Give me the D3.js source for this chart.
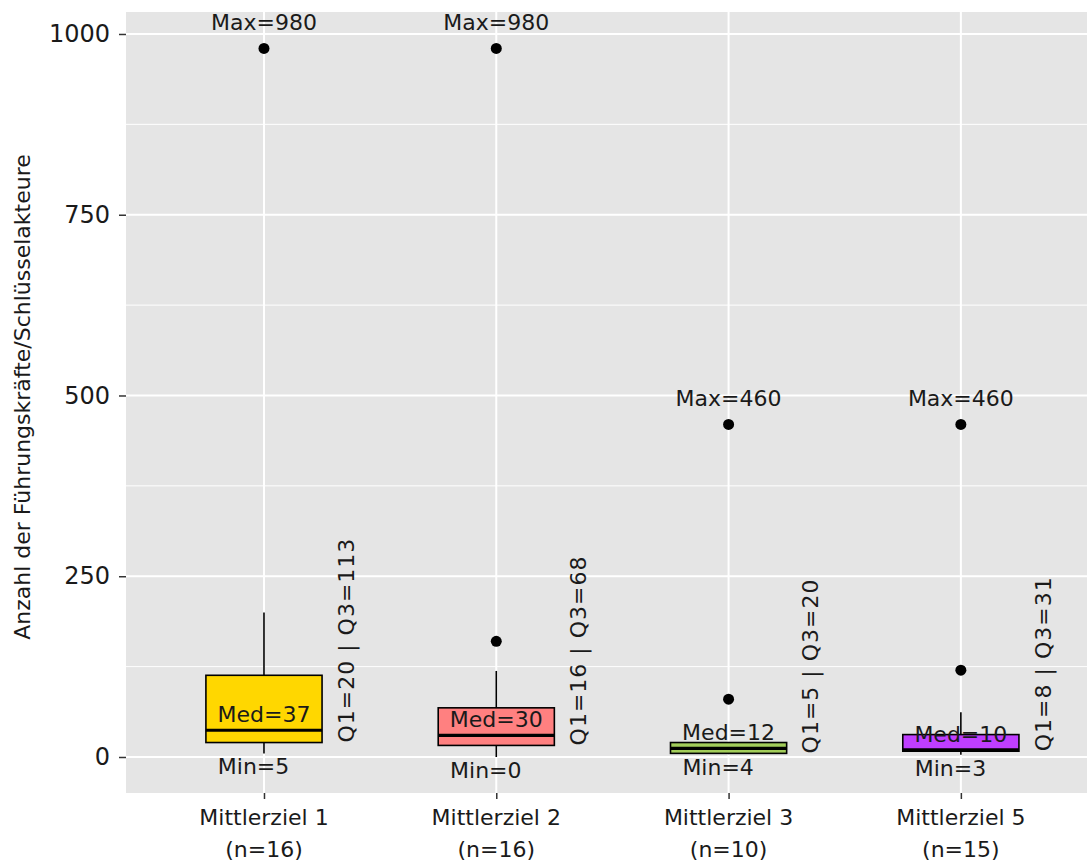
<!DOCTYPE html>
<html>
<head>
<meta charset="utf-8">
<script src="https://cdn.jsdelivr.net/npm/d3@7"></script>
<style>
  html, body { margin: 0; padding: 0; background: #fff; }
  svg text { font-family: "DejaVu Sans", sans-serif; fill: #1a1a1a; }
</style>
</head>
<body>
<svg id="chart" width="1087" height="863"></svg>
<script>
// Boxplot statistics per target group
const categories = ["Mittlerziel 1", "Mittlerziel 2", "Mittlerziel 3", "Mittlerziel 5"];
const nCounts    = [16, 16, 10, 15];
const q1Values   = [20, 16, 5, 8];
const medians    = [37, 30, 12, 10];
const q3Values   = [113, 68, 20, 31];
const whiskerLow = [5, 0, 4, 3];
const whiskerHigh = [200, 119, 20, 62];
const outliers   = [[980], [160, 980], [80, 460], [120, 460]];
const maxValues  = [980, 980, 460, 460];
const minValues  = [5, 0, 4, 3];
const fills      = ["#FFD700", "#FF8080", "#A2CD5A", "#BF3EFF"];
const yTicks     = [0, 250, 500, 750, 1000];
const yMinor     = [125, 375, 625, 875];

const svg = d3.select("#chart");
const panel = { left: 126, right: 1087, top: 12, bottom: 793 };

const x = d3.scaleLinear().domain([0.406, 4.543]).range([panel.left, panel.right]);
const y = d3.scaleLinear().domain([-49.8, 1030.4]).range([panel.bottom, panel.top]);
const boxHalf = 0.25;

// panel background
svg.append("rect")
  .attr("x", panel.left).attr("y", panel.top)
  .attr("width", panel.right - panel.left).attr("height", panel.bottom - panel.top)
  .attr("fill", "#E5E5E5");

// grid
const grid = svg.append("g");
grid.selectAll(".minor").data(yMinor).join("line")
  .attr("x1", panel.left).attr("x2", panel.right)
  .attr("y1", d => y(d)).attr("y2", d => y(d))
  .attr("stroke", "#fff").attr("stroke-width", 1);
grid.selectAll(".major").data(yTicks).join("line")
  .attr("x1", panel.left).attr("x2", panel.right)
  .attr("y1", d => y(d)).attr("y2", d => y(d))
  .attr("stroke", "#fff").attr("stroke-width", 2);
grid.selectAll(".vmajor").data(categories).join("line")
  .attr("x1", (d, i) => x(i + 1)).attr("x2", (d, i) => x(i + 1))
  .attr("y1", panel.top).attr("y2", panel.bottom)
  .attr("stroke", "#fff").attr("stroke-width", 2);

// y axis
const yAxis = svg.append("g")
  .attr("transform", `translate(${panel.left},0)`)
  .call(d3.axisLeft(y).tickValues(yTicks).tickSize(7).tickPadding(9).tickFormat(d3.format("d")));
yAxis.select(".domain").remove();
yAxis.selectAll(".tick line").attr("stroke", "#333").attr("stroke-width", 1.5);
yAxis.selectAll(".tick text").attr("font-size", 24).attr("fill", "#1a1a1a")
  .style("font-family", "'DejaVu Sans', sans-serif");

// x axis
const xAxis = svg.append("g")
  .attr("transform", `translate(0,${panel.bottom})`)
  .call(d3.axisBottom(x).tickValues([1, 2, 3, 4]).tickSize(6).tickFormat(""));
xAxis.select(".domain").remove();
xAxis.selectAll(".tick line").attr("stroke", "#333").attr("stroke-width", 1.5);
categories.forEach((c, i) => {
  const t = svg.append("text")
    .attr("x", x(i + 1)).attr("y", 825)
    .attr("text-anchor", "middle").attr("font-size", 22);
  t.append("tspan").attr("x", x(i + 1)).text(c);
  t.append("tspan").attr("x", x(i + 1)).attr("dy", 32).text(`(n=${nCounts[i]})`);
});

// y axis title
svg.append("text")
  .attr("transform", `translate(30,397) rotate(-90)`)
  .attr("text-anchor", "middle").attr("font-size", 22)
  .text("Anzahl der Führungskräfte/Schlüsselakteure");

// boxes
const boxes = svg.append("g");
categories.forEach((c, i) => {
  const cx = x(i + 1);
  const g = boxes.append("g");
  // whiskers
  g.append("line").attr("x1", cx).attr("x2", cx)
    .attr("y1", y(q3Values[i])).attr("y2", y(whiskerHigh[i]))
    .attr("stroke", "#000").attr("stroke-width", 1.6);
  g.append("line").attr("x1", cx).attr("x2", cx)
    .attr("y1", y(q1Values[i])).attr("y2", y(whiskerLow[i]))
    .attr("stroke", "#000").attr("stroke-width", 1.6);
  // box
  g.append("rect")
    .attr("x", x(i + 1 - boxHalf)).attr("width", x(i + 1 + boxHalf) - x(i + 1 - boxHalf))
    .attr("y", y(q3Values[i])).attr("height", y(q1Values[i]) - y(q3Values[i]))
    .attr("fill", fills[i]).attr("stroke", "#000").attr("stroke-width", 1.6);
  // median
  g.append("line")
    .attr("x1", x(i + 1 - boxHalf)).attr("x2", x(i + 1 + boxHalf))
    .attr("y1", y(medians[i])).attr("y2", y(medians[i]))
    .attr("stroke", "#000").attr("stroke-width", 3.2);
  // outliers
  g.selectAll("circle").data(outliers[i]).join("circle")
    .attr("cx", cx).attr("cy", d => y(d)).attr("r", 5.5).attr("fill", "#000");
});

// annotations
const ann = svg.append("g").attr("font-size", 22);
categories.forEach((c, i) => {
  const cx = x(i + 1);
  ann.append("text").attr("x", cx).attr("y", y(maxValues[i]) - 18)
    .attr("text-anchor", "middle").text(`Max=${maxValues[i]}`);
  ann.append("text").attr("x", cx).attr("y", y(medians[i]) - 8)
    .attr("text-anchor", "middle").text(`Med=${medians[i]}`);
  // min labels sit slightly left of the box centre
  ann.append("text").attr("x", x(i + 1 - 0.045)).attr("y", y(minValues[i]) + 21)
    .attr("text-anchor", "middle").text(`Min=${minValues[i]}`);
  ann.append("text")
    .attr("transform", `translate(${x(i + 1.387)},${y(q1Values[i])}) rotate(-90)`)
    .attr("text-anchor", "start").attr("letter-spacing", 1)
    .text(`Q1=${q1Values[i]} | Q3=${q3Values[i]}`);
});
</script>
</body>
</html>
